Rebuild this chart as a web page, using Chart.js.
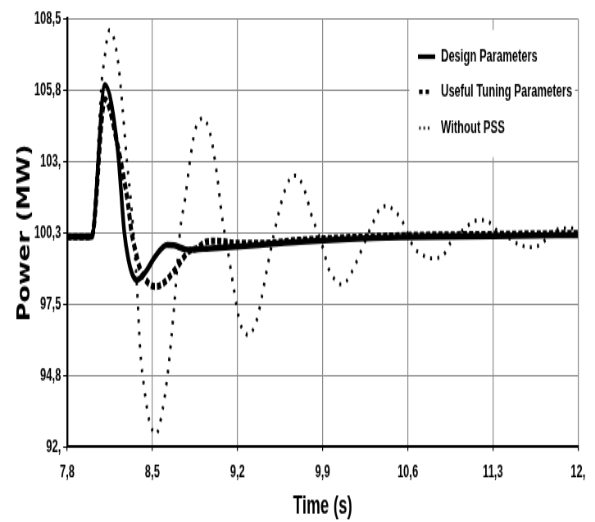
<!DOCTYPE html>
<html>
<head>
<meta charset="utf-8">
<script src="https://cdn.jsdelivr.net/npm/chart.js@4.4.1/dist/chart.umd.min.js"></script>
<style>
  html, body { margin: 0; padding: 0; background: #fff; }
  /* the source figure is squeezed sideways and stretched vertically, so the canvas is too */
  #powerChart { display: block; width: 595px; height: 522px; }
</style>
</head>
<body>
<canvas id="powerChart" width="726" height="373" style="width:595px;height:522px"></canvas>
<script>
// ================================
// POWER RESPONSE - PSS COMPARISON
// ================================

const xTicks = [7.8, 8.5, 9.2, 9.9, 10.6, 11.3, 12.0];
const xTickLabels = ["7,8", "8,5", "9,2", "9,9", "10,6", "11,3", "12,"];
const yTicks = [92, 94.75, 97.5, 100.25, 103, 105.75, 108.5];
const yTickLabels = ["92,", "94,8", "97,5", "100,3", "103,", "105,8", "108,5"];

const seriesNames = ["Design Parameters", "Useful Tuning Parameters", "Without PSS"];

const designTime = [7.8, 8.0, 8.11, 8.215, 8.27, 8.304, 8.332, 8.373, 8.42, 8.455, 8.523, 8.62, 8.68, 8.77, 8.81, 8.975, 9.386, 9.715, 10.537, 11.3, 12.0];
const designPower = [100.1, 100.1, 105.95, 103.45, 100.25, 99.21, 98.7, 98.44, 98.6, 98.82, 99.34, 99.79, 99.77, 99.62, 99.6, 99.66, 99.79, 99.91, 100.08, 100.13, 100.17];

const tuningTime = [7.8, 8.0, 8.11, 8.222, 8.263, 8.299, 8.326, 8.365, 8.40, 8.468, 8.523, 8.59, 8.674, 8.743, 8.797, 8.866, 8.948, 9.03, 9.195, 9.386, 9.715, 10.537, 11.3, 12.0];
const tuningPower = [100.1, 100.1, 105.4, 103.45, 102.42, 101.4, 100.37, 99.47, 98.85, 98.31, 98.18, 98.31, 98.76, 99.21, 99.53, 99.66, 99.91, 99.94, 99.85, 99.85, 99.98, 100.15, 100.2, 100.24];

const noPssTime = [7.8, 8.0, 8.085, 8.107, 8.126, 8.148, 8.18, 8.222, 8.255, 8.29, 8.33, 8.373, 8.40, 8.435, 8.476, 8.531, 8.586, 8.633, 8.68, 8.729, 8.77, 8.811, 8.852, 8.915, 8.975, 9.03, 9.071, 9.126, 9.167, 9.222, 9.29, 9.359, 9.40, 9.441, 9.504, 9.578, 9.633, 9.674, 9.715, 9.764, 9.803, 9.857, 9.907, 9.948, 10.017, 10.052, 10.093, 10.167, 10.276, 10.331, 10.372, 10.432, 10.482, 10.55, 10.646, 10.70, 10.797, 10.893, 10.948, 11.07, 11.14, 11.194, 11.262, 11.33, 11.414, 11.523, 11.605, 11.688, 11.743, 11.825, 11.907, 12.0];
const noPssPower = [100.1, 100.1, 106.15, 106.98, 107.69, 108.08, 107.82, 106.7, 105.06, 103.06, 101.14, 98.2, 95.74, 94.2, 92.98, 92.5, 93.49, 95.1, 97.47, 100.37, 101.6, 103.09, 104.22, 104.67, 104.09, 102.55, 100.94, 99.4, 98.18, 96.77, 96.32, 96.9, 97.79, 98.82, 100.3, 101.72, 102.36, 102.46, 102.29, 101.72, 101.01, 100.3, 99.6, 98.89, 98.37, 98.27, 98.37, 99.02, 100.24, 100.82, 101.2, 101.29, 101.14, 100.75, 99.72, 99.47, 99.27, 99.4, 99.85, 100.43, 100.69, 100.75, 100.69, 100.37, 100.11, 99.79, 99.70, 99.79, 100.05, 100.37, 100.43, 100.43];

const sans = "'Liberation Sans', Arial, sans-serif";

const toPoints = (xs, ys) => xs.map((x, i) => ({ x: x, y: ys[i] }));

document.addEventListener("DOMContentLoaded", () => {

    /* ------------------------------
       LEGEND INSIDE THE PLOT
    ------------------------------ */
    const boxLegend = {
        id: "boxLegend",
        afterDraw(chart) {
            const c = chart.ctx;
            const rows = [
                { y: 40.5, width: 3.3, dash: [], from: 510, to: 531 },
                { y: 65.6, width: 3.3, dash: [4.3, 3.7], from: 511.3, to: 523.4 },
                { y: 91.5, width: 2, dash: [2.1, 3.2], from: 511.3, to: 524 }
            ];
            c.save();
            c.fillStyle = "#fff";
            c.fillRect(499.5, 21.4, 202, 91);
            rows.forEach((r, i) => {
                c.beginPath();
                c.setLineDash(r.dash);
                c.lineWidth = r.width;
                c.strokeStyle = "#000";
                c.lineCap = "butt";
                c.moveTo(r.from, r.y);
                c.lineTo(r.to, r.y);
                c.stroke();
                c.setLineDash([]);
                c.fillStyle = "#000";
                c.font = "bold 13px " + sans;
                c.textBaseline = "middle";
                c.textAlign = "left";
                c.fillText(seriesNames[i], 538, r.y);
            });
            c.restore();
        }
    };

    new Chart(document.getElementById("powerChart"), {
        type: "line",
        data: {
            datasets: [{
                label: seriesNames[0],
                data: toPoints(designTime, designPower),
                borderColor: "#000",
                borderWidth: 4.5,
                pointRadius: 0,
                cubicInterpolationMode: "monotone",
                order: 2
            }, {
                label: seriesNames[1],
                data: toPoints(tuningTime, tuningPower),
                borderColor: "#000",
                borderWidth: 5,
                borderDash: [5, 2.5],
                borderCapStyle: "butt",
                pointRadius: 0,
                cubicInterpolationMode: "monotone",
                order: 1
            }, {
                label: seriesNames[2],
                data: toPoints(noPssTime, noPssPower),
                borderColor: "#000",
                borderWidth: 2.9,
                borderDash: [2.4, 6.5],
                borderCapStyle: "butt",
                pointRadius: 0,
                cubicInterpolationMode: "monotone",
                order: 0
            }]
        },
        options: {
            responsive: false,
            animation: false,
            devicePixelRatio: 1,
            layout: { padding: { left: 0, right: 20.7, top: 13.6, bottom: 0 } },
            plugins: { legend: { display: false }, tooltip: { enabled: false } },
            scales: {
                x: {
                    type: "linear",
                    min: 7.8,
                    max: 12.0,
                    afterBuildTicks: axis => { axis.ticks = xTicks.map(v => ({ value: v })); },
                    afterFit: axis => { axis.height = 53.7; },
                    ticks: {
                        autoSkip: false,
                        maxRotation: 0,
                        padding: 7,
                        color: "#000",
                        font: { family: sans, size: 13, weight: "bold" },
                        callback: (v, i) => xTickLabels[i]
                    },
                    grid: { color: "#8a8a8a", lineWidth: 1.2, tickLength: 3, tickColor: "#000" },
                    border: { display: true, color: "#000", width: 2 },
                    title: {
                        display: true,
                        text: "Time (s)",
                        color: "#000",
                        padding: { top: 0, bottom: 0 },
                        font: { family: sans, size: 19, weight: "bold" }
                    }
                },
                y: {
                    type: "linear",
                    min: 92,
                    max: 108.5,
                    afterBuildTicks: axis => { axis.ticks = yTicks.map(v => ({ value: v })); },
                    afterFit: axis => { axis.width = 82; },
                    ticks: {
                        autoSkip: false,
                        padding: 2.7,
                        color: "#000",
                        font: { family: sans, size: 13, weight: "bold" },
                        callback: (v, i) => yTickLabels[i]
                    },
                    grid: { color: "#8a8a8a", lineWidth: 1, tickLength: 4.9, tickColor: "#000" },
                    border: { display: true, color: "#000", width: 2.4 },
                    title: {
                        display: true,
                        text: "Power (MW)",
                        color: "#000",
                        padding: { top: 18.2, bottom: 0 },
                        font: { family: "'DejaVu Sans Condensed', 'DejaVu Sans', sans-serif", size: 20.5, weight: "bold" }
                    }
                }
            }
        },
        plugins: [boxLegend]
    });
});
</script>
</body>
</html>
